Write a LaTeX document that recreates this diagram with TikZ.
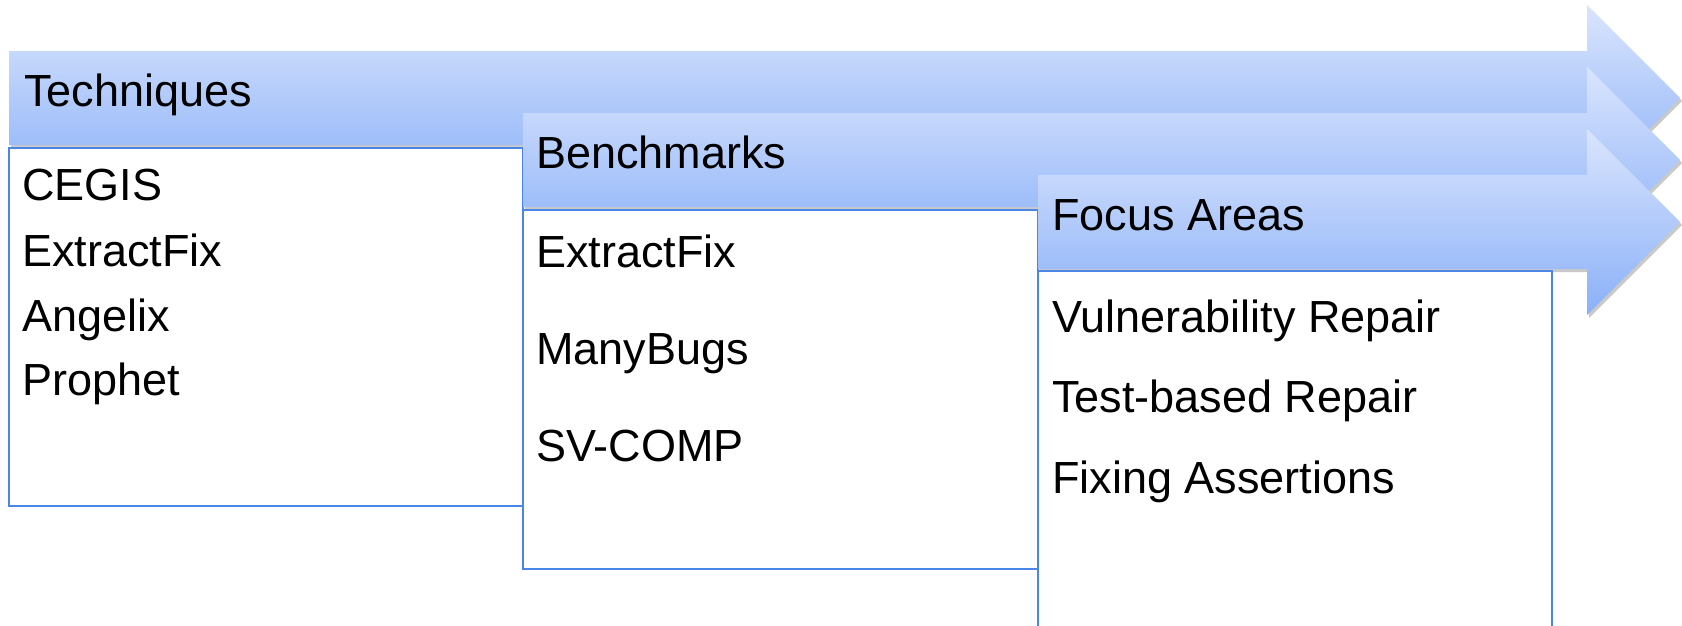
\documentclass[tikz,border=0pt]{standalone}
\usepackage{fontspec}
\setmainfont{Liberation Sans}
\definecolor{arrtop}{RGB}{218,229,253}
\definecolor{arrbot}{RGB}{138,176,248}
\definecolor{boxblue}{RGB}{74,134,232}
\newcommand\myarrow[2]{(#1,#2-47) -- (1587,#2-47) -- (1587,#2-93) -- (1680,#2) -- (1587,#2+93) -- (1587,#2+47) -- (#1,#2+47) -- cycle}
\begin{document}
\begin{tikzpicture}[x=1pt,y=-1pt,
  lbl/.style={anchor=base west,inner sep=0pt,font=\fontsize{45}{53}\selectfont},
  bar/.style={top color=arrtop,bottom color=arrbot,draw=none},
  shad/.style={fill=black!60,opacity=0.35,draw=none},
  listbox/.style={draw=boxblue,line width=2pt,fill=white}]
\clip (0,0) rectangle (1682,625);
\fill[white] (0,0) rectangle (1682,625);
% Techniques
\fill[shad,shift={(2,3)}] \myarrow{9}{98};
\shade[bar] \myarrow{9}{98};
\draw[listbox] (9,148) rectangle (523,506);
% Benchmarks
\fill[shad,shift={(2,3)}] \myarrow{523}{160};
\shade[bar] \myarrow{523}{160};
\draw[listbox] (523,210) rectangle (1038,569);
% Focus Areas
\fill[shad,shift={(2,3)}] \myarrow{1038}{222};
\shade[bar] \myarrow{1038}{222};
\draw[listbox] (1038,271) rectangle (1552,650);
% headings
\node[lbl] (h1) at (24,106) {Techniques};
\node[lbl] (h2) at (536,168) {Benchmarks};
\node[lbl] (h3) at (1052,230) {Focus Areas};
% lists
\node[lbl] (t1) at (22,200) {CEGIS};
\node[lbl] (t2) at (22,266) {ExtractFix};
\node[lbl] (t3) at (22,331) {Angelix};
\node[lbl] (t4) at (22,395) {Prophet};
\node[lbl] (b1) at (536,267) {ExtractFix};
\node[lbl] (b2) at (536,364) {ManyBugs};
\node[lbl] (b3) at (536,461) {SV-COMP};
\node[lbl] (f1) at (1052,332) {Vulnerability Repair};
\node[lbl] (f2) at (1052,412) {Test-based Repair};
\node[lbl] (f3) at (1052,493) {Fixing Assertions};
\end{tikzpicture}
\end{document}
